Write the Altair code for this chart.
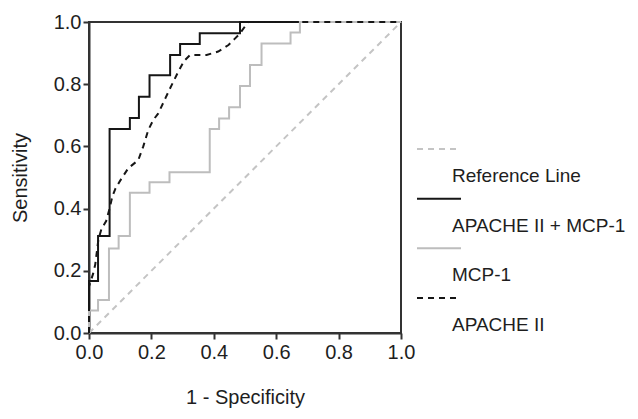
import altair as alt
import pandas as pd

# ---- data ----
series_names = ["Reference Line", "APACHE II + MCP-1", "MCP-1", "APACHE II"]
series_colors = ["#c4c4c4", "#161616", "#bdbdbd", "#161616"]
series_dash = [[6, 5], [1, 0], [1, 0], [6, 5]]

ref_fpr = [0.0, 1.0]
ref_tpr = [0.0, 1.0]

# step-before corner points (APACHE II + MCP-1)
combo_fpr = [0.0, 0.029, 0.066, 0.131, 0.160, 0.194, 0.260, 0.292, 0.355, 0.484, 1.0]
combo_tpr = [0.0, 0.167, 0.312, 0.656, 0.691, 0.760, 0.829, 0.894, 0.929, 0.964, 1.0]

# step-before corner points (MCP-1)
mcp_fpr = [0.0, 0.029, 0.064, 0.095, 0.131, 0.194, 0.258, 0.387, 0.417, 0.449, 0.484,
           0.516, 0.553, 0.646, 0.676, 1.0]
mcp_tpr = [0.0, 0.072, 0.106, 0.272, 0.312, 0.451, 0.485, 0.517, 0.656, 0.690, 0.726,
           0.794, 0.862, 0.931, 0.966, 1.0]

# APACHE II (dense small steps, read as a path)
apache_fpr = [0.0, 0.0, 0.013, 0.020, 0.030, 0.040, 0.055, 0.066, 0.075, 0.085, 0.100,
              0.126, 0.158, 0.174, 0.190, 0.206, 0.222, 0.245, 0.260, 0.286, 0.305,
              0.324, 0.377, 0.414, 0.447, 0.466, 0.484, 0.510, 1.0]
apache_tpr = [0.0, 0.150, 0.190, 0.220, 0.300, 0.335, 0.360, 0.400, 0.440, 0.465, 0.490,
              0.530, 0.556, 0.600, 0.653, 0.685, 0.706, 0.755, 0.787, 0.840, 0.875,
              0.894, 0.894, 0.905, 0.926, 0.945, 0.963, 1.0, 1.0]

tick_values = [0.0, 0.2, 0.4, 0.6, 0.8, 1.0]

FONT = "Liberation Sans"
AX = "#333333"

color_scale = alt.Scale(domain=series_names, range=series_colors)
dash_scale = alt.Scale(domain=series_names, range=series_dash)

common_axis = dict(values=tick_values, format=".1f", grid=False, labelFlush=False,
                   labelOverlap=False, titleFontSize=20, titleFontWeight="normal",
                   labelFontSize=20, tickSize=6, tickWidth=2, domainWidth=2,
                   domainColor=AX, tickColor=AX, labelColor="#1e1e1e", titleColor="#1e1e1e")
x_axis = alt.Axis(title="1 - Specificity", titlePadding=25, labelPadding=3, **common_axis)
y_axis = alt.Axis(title="Sensitivity", titlePadding=23, labelPadding=2, **common_axis)


def curve(fpr, tpr, name, interp):
    df = pd.DataFrame({"fpr": fpr, "tpr": tpr, "series": name,
                       "idx": list(range(len(fpr)))})
    return alt.Chart(df).mark_line(interpolate=interp, strokeWidth=2).encode(
        x=alt.X("fpr:Q", scale=alt.Scale(domain=[0, 1], nice=False), axis=x_axis),
        y=alt.Y("tpr:Q", scale=alt.Scale(domain=[0, 1], nice=False), axis=y_axis),
        color=alt.Color("series:N", scale=color_scale, legend=None),
        strokeDash=alt.StrokeDash("series:N", scale=dash_scale, legend=None),
        order="idx:Q",
    )


main = alt.layer(
    curve(ref_fpr, ref_tpr, series_names[0], "linear"),
    curve(combo_fpr, combo_tpr, series_names[1], "step-before"),
    curve(mcp_fpr, mcp_tpr, series_names[2], "step-before"),
    curve(apache_fpr, apache_tpr, series_names[3], "linear"),
).properties(width=312, height=311,
             view=alt.ViewBackground(stroke=AX, strokeWidth=2))

leg_df = pd.DataFrame({"series": series_names})
leg_y = alt.Y("series:N", scale=alt.Scale(type="point", domain=series_names,
                                          range=[127, 276], padding=0), axis=None)
leg_lines = alt.Chart(leg_df).mark_rule(strokeWidth=2).encode(
    x=alt.value(0), x2=alt.value(44), y=leg_y,
    color=alt.Color("series:N", scale=color_scale, legend=None),
    strokeDash=alt.StrokeDash("series:N", scale=dash_scale, legend=None),
)
leg_text = alt.Chart(leg_df).mark_text(align="left", baseline="alphabetic", dy=33,
                                       fontSize=19, color="#1e1e1e").encode(
    x=alt.value(35), y=leg_y, text="series:N")
legend = alt.layer(leg_lines, leg_text).properties(
    width=170, height=311, view=alt.ViewBackground(strokeOpacity=0))

chart = alt.hconcat(main, legend, spacing=0).configure(font=FONT).resolve_scale(
    color="shared", strokeDash="shared").properties(
    padding={"left": 1, "top": 3, "right": 0, "bottom": 0})

chart.save("out.html", embed_options={"renderer": "svg", "actions": False})
